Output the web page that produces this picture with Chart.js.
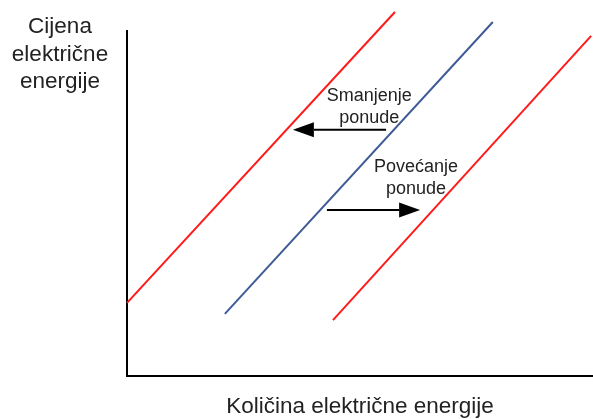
<!DOCTYPE html>
<html>
<head>
<meta charset="utf-8">
<script src="https://cdn.jsdelivr.net/npm/chart.js@4/dist/chart.umd.min.js"></script>
<style>
    html, body { margin: 0; padding: 0; background: #fff; }
    #wrap { width: 593px; height: 419px; }
</style>
</head>
<body>
<div id="wrap"><canvas id="supplyChart" width="593" height="419"></canvas></div>
<script>
// Supply curves: start and end points (quantity 0-100, price 0-100)
const curveNames = ['Smanjena ponuda', 'Ponuda', 'Povećana ponuda'];
const curveColors = ['#ff1a1a', '#3f5b96', '#ff1a1a'];
const startQty = [0, 21.0, 44.2];
const startPrice = [21.2, 18.0, 16.2];
const endQty = [57.5, 78.5, 99.6];
const endPrice = [105.5, 102.6, 98.6];

// Shift arrows
const arrowFrom = [55.6, 42.9];
const arrowTo = [35.6, 62.9];
const arrowPrice = [71.4, 48.1];

// Arrow labels
const labelLines = [['Smanjenje', 'ponude'], ['Povećanje', 'ponude']];
const labelQty = [52.0, 62.0];
const labelPrice = [79.6, 59.1];

// Axis titles
const yTitle = ['Cijena', 'električne', 'energije'];
const xTitle = 'Količina električne energije';

const FONT = '"Liberation Sans", Arial, sans-serif';

const datasets = curveNames.map((name, i) => ({
    label: name,
    data: [{ x: startQty[i], y: startPrice[i] }, { x: endQty[i], y: endPrice[i] }],
    borderColor: curveColors[i],
    borderWidth: 2,
    pointRadius: 0,
    showLine: true,
    fill: false,
    clip: false,
}));

// Draws arrows, labels and axis titles
const annotations = {
    id: 'annotations',
    afterDatasetsDraw(chart) {
        const { ctx, chartArea, scales: { x, y } } = chart;
        ctx.save();

        // arrows
        arrowFrom.forEach((from, i) => {
            const x0 = x.getPixelForValue(from);
            const x1 = x.getPixelForValue(arrowTo[i]);
            const py = y.getPixelForValue(arrowPrice[i]);
            const dir = x1 > x0 ? 1 : -1;
            const headLen = 21;
            ctx.strokeStyle = '#000';
            ctx.lineWidth = 2;
            ctx.beginPath();
            ctx.moveTo(x0, py);
            ctx.lineTo(x1 - dir * headLen, py);
            ctx.stroke();
            ctx.fillStyle = '#000';
            ctx.beginPath();
            ctx.moveTo(x1, py);
            ctx.lineTo(x1 - dir * headLen, py - 7.5);
            ctx.lineTo(x1 - dir * headLen, py + 7.5);
            ctx.closePath();
            ctx.fill();
        });

        // arrow labels
        ctx.fillStyle = '#222';
        ctx.font = '18px ' + FONT;
        ctx.textAlign = 'center';
        ctx.textBaseline = 'alphabetic';
        labelLines.forEach((lines, i) => {
            const px = x.getPixelForValue(labelQty[i]);
            const py = y.getPixelForValue(labelPrice[i]);
            lines.forEach((txt, j) => ctx.fillText(txt, px, py + j * 22));
        });

        // axis titles
        ctx.font = '22.5px ' + FONT;
        yTitle.forEach((txt, j) => ctx.fillText(txt, 60, 33 + j * 27.5));
        ctx.fillText(xTitle, 360, chartArea.bottom + 37);

        ctx.restore();
    }
};

new Chart(document.getElementById('supplyChart'), {
    type: 'scatter',
    data: { datasets: datasets },
    options: {
        responsive: false,
        animation: false,
        events: [],
        layout: { padding: { left: 119, right: 0, top: 31, bottom: 35 } },
        plugins: {
            legend: { display: false },
            tooltip: { enabled: false },
        },
        scales: {
            x: {
                type: 'linear',
                min: 0,
                max: 100,
                ticks: { display: false },
                grid: { display: false },
                border: { display: true, color: '#000', width: 2 },
            },
            y: {
                type: 'linear',
                min: 0,
                max: 100,
                ticks: { display: false },
                grid: { display: false },
                border: { display: true, color: '#000', width: 2 },
            }
        }
    },
    plugins: [annotations]
});
</script>
</body>
</html>
